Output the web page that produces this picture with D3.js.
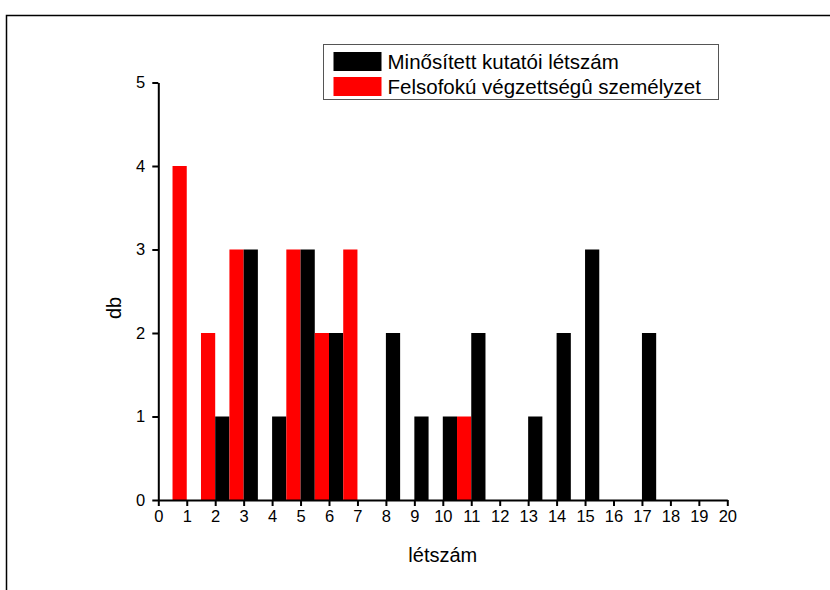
<!DOCTYPE html>
<html>
<head>
<meta charset="utf-8">
<script src="https://cdn.jsdelivr.net/npm/d3@7"></script>
<style>
  body { margin: 0; background: #fff; }
  svg { font-family: "Liberation Sans", Arial, sans-serif; }
</style>
</head>
<body>
<div class="chart"></div>
<script>
"use strict";

// létszám categories 1..20
const categories = d3.range(1, 21);
const seriesNames = ["Minősített kutatói létszám", "Felsofokú végzettségû személyzet"];
const seriesColors = ["#000000", "#ff0000"];
// db counts per category
const kutatoi = [0, 1, 3, 1, 3, 2, 0, 2, 1, 1, 2, 0, 1, 2, 3, 0, 2, 0, 0, 0];
const felsofoku = [4, 2, 3, 0, 3, 2, 3, 0, 0, 0, 1, 0, 0, 0, 0, 0, 0, 0, 0, 0];
const xTicks = d3.range(0, 21);
const yTicks = [0, 1, 2, 3, 4, 5];

const W = 830, H = 590;
const margin = { top: 82.5, right: 103, bottom: 90, left: 158.3 };
const width = 727.3 - margin.left;
const height = 500 - margin.top;

const root = d3.select(".chart").append("svg").attr("width", W).attr("height", H);

// outer frame
root.append("rect")
  .attr("x", 6.5).attr("y", 15.5)
  .attr("width", 900).attr("height", 700)
  .attr("fill", "none").attr("stroke", "#000").attr("stroke-width", 1.5);

const svg = root.append("g")
  .attr("transform", `translate(${margin.left},${margin.top})`);

const x = d3.scaleLinear().domain([0, 20]).range([0, width]);
const y = d3.scaleLinear().domain([0, 5]).range([height, 0]);

// red bars sit left of the tick, black bars right of it
const bars = [];
categories.forEach((c, i) => {
  bars.push({ c, v: felsofoku[i], x0: c - 0.5, x1: c, color: seriesColors[1] });
  bars.push({ c, v: kutatoi[i], x0: c, x1: c + 0.5, color: seriesColors[0] });
});

svg.append("g")
  .selectAll("rect")
  .data(bars.filter((d) => d.v > 0))
  .join("rect")
  .attr("x", (d) => x(d.x0))
  .attr("width", (d) => x(d.x1) - x(d.x0))
  .attr("y", (d) => y(d.v))
  .attr("height", (d) => y(0) - y(d.v))
  .attr("fill", (d) => d.color);

// axes
const xAxis = d3.axisBottom(x).tickValues(xTicks).tickFormat(d3.format("d"))
  .tickSize(6).tickPadding(4).tickSizeOuter(0);
const yAxis = d3.axisLeft(y).tickValues(yTicks).tickFormat(d3.format("d"))
  .tickSize(6).tickPadding(7).tickSizeOuter(0);

const xg = svg.append("g")
  .attr("transform", `translate(0,${height})`)
  .call(xAxis);
const yg = svg.append("g").call(yAxis);

[xg, yg].forEach((g) => {
  g.attr("font-size", null).attr("font-family", null);
  g.selectAll(".domain").attr("stroke", "#000").attr("stroke-width", 2);
  g.selectAll(".tick line").attr("stroke", "#000").attr("stroke-width", 2);
  g.selectAll(".tick text")
    .attr("font-size", 16.5)
    .attr("fill", "#000");
});

// axis titles
svg.append("text")
  .attr("x", x(10))
  .attr("y", height + 62)
  .attr("text-anchor", "middle")
  .attr("font-size", 20)
  .text("létszám");

svg.append("text")
  .attr("transform", `translate(${-37},${y(2.3)}) rotate(-90)`)
  .attr("text-anchor", "middle")
  .attr("font-size", 20)
  .text("db");

// legend
const legend = root.append("g").attr("transform", "translate(323.5,44.5)");
legend.append("rect")
  .attr("width", 395).attr("height", 55)
  .attr("fill", "#fff").attr("stroke", "#555").attr("stroke-width", 1);

seriesNames.forEach((name, i) => {
  const row = legend.append("g").attr("transform", `translate(10,${7.5 + i * 25})`);
  row.append("rect")
    .attr("width", 48).attr("height", 19)
    .attr("fill", seriesColors[i]);
  row.append("text")
    .attr("x", 54).attr("y", 17)
    .attr("font-size", 20.5)
    .text(name);
});
</script>
</body>
</html>
